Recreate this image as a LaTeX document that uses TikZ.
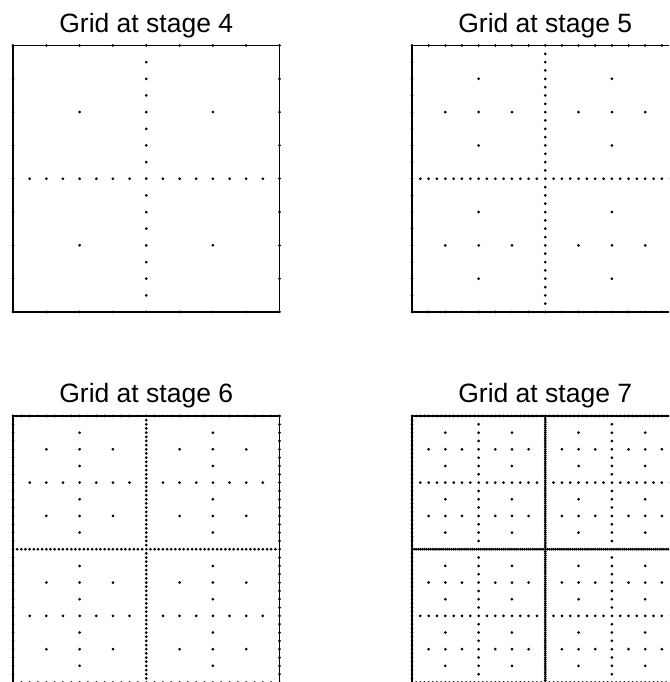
\documentclass[tikz,border=0pt]{standalone}
\usepackage{fontspec}
\setmainfont{Liberation Sans}
\definecolor{sgInk}{HTML}{000000}
\tikzset{
  sg frame/.style={draw=sgInk, line width=1.1pt},
  sg dot/.style={fill=sgInk},
  sg title/.style={font=\fontsize{26.5}{30}\selectfont, text=sgInk, anchor=base},
}

\begin{document}
\begin{tikzpicture}[x=1pt,y=1pt]
  \useasboundingbox (0,0) rectangle (669,682);
  \clip (0,0) rectangle (669,682);
  \foreach \n/\px/\py in {4/13/370, 5/412/370, 6/13/-0.5, 7/412/-0.5}{
    \begin{scope}[shift={(\px,\py)}, x=266.5pt, y=266.5pt]
      \draw[sg frame] (0,0) rectangle (1,1);
      \node[sg title, yshift=13pt] (title\n) at (0.5,1) {Grid at stage \n};
      \foreach \a in {0,...,\n}{
        \foreach \b in {0,...,\n}{
          \pgfmathtruncatemacro{\lvllo}{min(\a,\b)}
          \pgfmathtruncatemacro{\lvlhi}{max(\a,\b)}
          \pgfmathtruncatemacro{\lvlcap}{\lvllo==0 ? \n-1 : (\lvllo==1 ? \n : \n-\lvllo)}
          \ifnum\lvlhi>\lvlcap\relax\else
            \pgfmathtruncatemacro{\ma}{\a==0 ? 2 : 2^(\a-1)}
            \pgfmathtruncatemacro{\mb}{\b==0 ? 2 : 2^(\b-1)}
            \foreach \i in {1,...,\ma}{
              \foreach \j in {1,...,\mb}{
                \pgfmathsetmacro{\xx}{\a==0 ? \i-1 : (2*\i-1)/2^\a}
                \pgfmathsetmacro{\yy}{\b==0 ? \j-1 : (2*\j-1)/2^\b}
                \fill[sg dot] (\xx,\yy) circle[radius=1.5pt];
              }
            }
          \fi
        }
      }
    \end{scope}
  }
\end{tikzpicture}
\end{document}
